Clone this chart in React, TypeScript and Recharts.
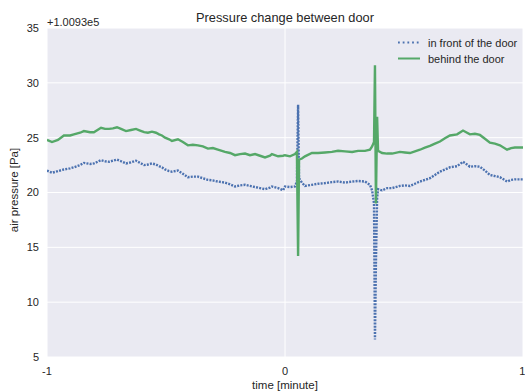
import React from "react";
import { LineChart, Line, XAxis, YAxis, CartesianGrid } from "recharts";

// time in minutes
const time = [
  -1.0, -0.979, -0.954, -0.929, -0.903, -0.887, -0.861, -0.845, -0.819, -0.803,
  -0.773, -0.756, -0.739, -0.723, -0.706, -0.689, -0.668, -0.647, -0.626, -0.609,
  -0.592, -0.576, -0.559, -0.542, -0.529, -0.517, -0.504, -0.487, -0.475, -0.45,
  -0.429, -0.408, -0.387, -0.366, -0.345, -0.324, -0.303, -0.282, -0.252, -0.231,
  -0.21, -0.189, -0.168, -0.147, -0.126, -0.105, -0.084, -0.063, -0.055, -0.029,
  -0.008, 0.0, 0.021, 0.042, 0.05, 0.055, 0.059, 0.071, 0.084, 0.113,
  0.139, 0.168, 0.197, 0.223, 0.252, 0.282, 0.307, 0.336, 0.357, 0.366,
  0.374, 0.378, 0.382, 0.387, 0.391, 0.408, 0.429, 0.45, 0.483, 0.504,
  0.525, 0.546, 0.567, 0.588, 0.609, 0.63, 0.651, 0.672, 0.693, 0.723,
  0.748, 0.765, 0.777, 0.798, 0.819, 0.84, 0.861, 0.882, 0.903, 0.933,
  0.95, 0.966, 0.983, 1.0,
];

// offset from 1.0093e5 Pa
const inFront = [
  22.0, 21.8, 21.95, 22.1, 22.2, 22.3, 22.5, 22.7, 22.6, 22.65,
  22.95, 22.85, 22.8, 22.9, 23.0, 22.85, 22.65, 22.75, 22.9, 22.7,
  22.5, 22.55, 22.65, 22.55, 22.4, 22.3, 22.1, 21.95, 21.9, 22.0,
  21.7, 21.4, 21.45, 21.45, 21.3, 21.15, 21.1, 21.0, 20.9, 20.75,
  20.55, 20.65, 20.7, 20.6, 20.5, 20.4, 20.3, 20.45, 20.55, 20.4,
  20.2, 20.55, 20.5, 20.55, 21.0, 28.0, 21.3, 20.9, 20.6, 20.7,
  20.8, 20.85, 20.95, 21.0, 20.9, 21.0, 21.05, 21.0, 20.7, 20.2,
  19.0, 6.6, 13.5, 19.5, 20.3, 20.2, 20.4, 20.4, 20.6, 20.65,
  20.6, 20.8, 21.0, 21.15, 21.3, 21.6, 21.9, 22.1, 22.3, 22.4,
  22.8, 22.55, 22.35, 22.4, 22.35, 22.0, 21.6, 21.5, 21.4, 21.0,
  21.15, 21.2, 21.2, 21.2,
];

const behind = [
  24.8, 24.6, 24.8, 25.2, 25.2, 25.3, 25.45, 25.6, 25.5, 25.5,
  25.9, 25.8, 25.8, 25.85, 25.95, 25.8, 25.6, 25.7, 25.8, 25.65,
  25.5, 25.45, 25.55, 25.45, 25.3, 25.2, 25.0, 24.85, 24.7, 24.85,
  24.6, 24.3, 24.35, 24.3, 24.2, 24.0, 24.05, 23.9, 23.7, 23.6,
  23.4, 23.5, 23.55, 23.4, 23.5, 23.35, 23.2, 23.35, 23.5, 23.3,
  23.35, 23.4, 23.3, 23.5, 23.7, 14.2, 23.0, 23.1, 23.3, 23.6,
  23.6, 23.65, 23.7, 23.8, 23.75, 23.7, 23.8, 23.8, 23.9, 24.2,
  24.6, 31.6, 19.0, 26.9, 23.8, 23.6, 23.55, 23.55, 23.7, 23.65,
  23.6, 23.75, 23.9, 24.1, 24.25, 24.45, 24.65, 24.95, 25.2, 25.3,
  25.65, 25.45, 25.3, 25.35, 25.25, 24.9, 24.55, 24.45, 24.3, 23.9,
  24.05, 24.1, 24.1, 24.1,
];

const xTicks = [-1, 0, 1];
const yTicks = [5, 10, 15, 20, 25, 30, 35];
const seriesNames = ["in front of the door", "behind the door"];
const titleText = "Pressure change between door";
const offsetText = "+1.0093e5";
const xLabel = "time [minute]";
const yLabel = "air pressure [Pa]";

const data = time.map((t, i) => ({ time: t, front: inFront[i], behind: behind[i] }));

const FONT = "'Liberation Sans', Arial, sans-serif";
const TEXT = "#262626";
const BLUE = "#4C72B0";
const GREEN = "#55A868";

export default function App() {
  return (
    <div style={{ position: "absolute", left: 0, top: 0, width: 525, height: 392, background: "#fff" }}>
      <LineChart
        width={525}
        height={392}
        data={data}
        margin={{ top: 28, right: 2, bottom: 5, left: 7 }}
        style={{ fontFamily: FONT }}
      >
        <CartesianGrid fill="#EAEAF2" stroke="#ffffff" strokeWidth={1} horizontalValues={yTicks} verticalValues={xTicks} />
        <XAxis
          dataKey="time"
          type="number"
          domain={[-1, 1]}
          ticks={xTicks}
          height={30}
          axisLine={false}
          tickLine={false}
          tickSize={0}
          tickMargin={10}
          tick={{ fill: TEXT, fontSize: 11, fontFamily: FONT }}
          allowDataOverflow
        />
        <YAxis
          type="number"
          domain={[5, 35]}
          ticks={yTicks}
          width={40}
          axisLine={false}
          tickLine={false}
          tickSize={0}
          tickMargin={8}
          tick={{ fill: TEXT, fontSize: 11, fontFamily: FONT }}
          allowDataOverflow
        />
        <Line
          type="linear"
          dataKey="front"
          stroke={BLUE}
          strokeWidth={2.4}
          strokeDasharray="2 1.2"
          dot={false}
          activeDot={false}
          isAnimationActive={false}
        />
        <Line
          type="linear"
          dataKey="behind"
          stroke={GREEN}
          strokeWidth={2.4}
          dot={false}
          activeDot={false}
          isAnimationActive={false}
        />
      </LineChart>
      <svg
        width={525}
        height={392}
        style={{ position: "absolute", left: 0, top: 0, pointerEvents: "none", fontFamily: FONT }}
      >
        <text x={285} y={22} textAnchor="middle" fontSize={12.8} fill={TEXT}>
          {titleText}
        </text>
        <text x={47} y={25.5} textAnchor="start" fontSize={11} fill={TEXT}>
          {offsetText}
        </text>
        <text x={285} y={389} textAnchor="middle" fontSize={11.5} fill={TEXT}>
          {xLabel}
        </text>
        <text x={18} y={190} textAnchor="middle" fontSize={11.5} fill={TEXT} transform="rotate(-90 18 190)">
          {yLabel}
        </text>
        <line x1={398} y1={42.5} x2={420} y2={42.5} stroke={BLUE} strokeWidth={2} strokeDasharray="1.8 2.9" />
        <text x={428} y={46.7} fontSize={11} fill={TEXT}>
          {seriesNames[0]}
        </text>
        <line x1={398} y1={58.5} x2={420} y2={58.5} stroke={GREEN} strokeWidth={2} />
        <text x={428} y={62.7} fontSize={11} fill={TEXT}>
          {seriesNames[1]}
        </text>
      </svg>
    </div>
  );
}
